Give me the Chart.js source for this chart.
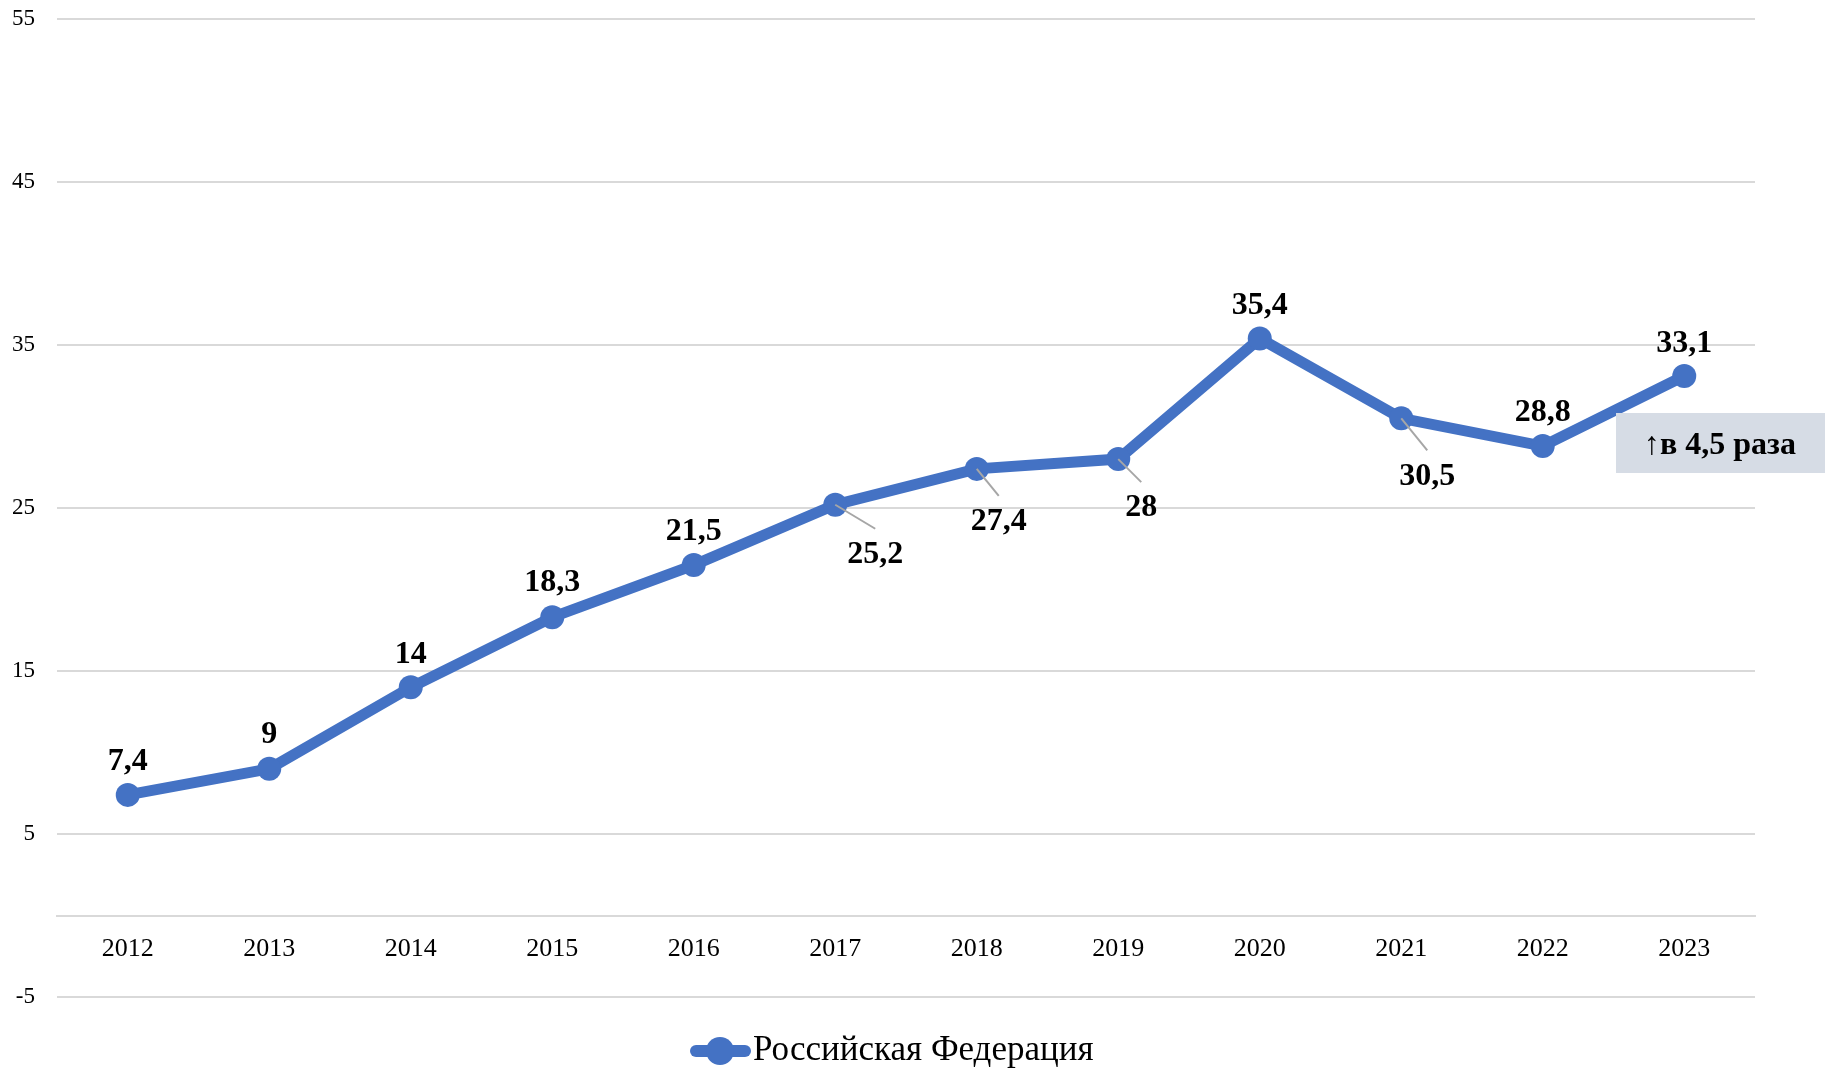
<!DOCTYPE html>
<html>
<head>
<meta charset="utf-8">
<script src="https://cdn.jsdelivr.net/npm/chart.js@4.4.1/dist/chart.umd.min.js"></script>
<style>
  html, body { margin: 0; padding: 0; background: #fff; }
  #wrap { width: 1825px; height: 1068px; position: relative; }
</style>
</head>
<body>
<div id="wrap"><canvas id="chart"></canvas></div>
<script>
// Data
const years = ['2012', '2013', '2014', '2015', '2016', '2017', '2018', '2019', '2020', '2021', '2022', '2023'];
const values = [7.4, 9, 14, 18.3, 21.5, 25.2, 27.4, 28, 35.4, 30.5, 28.8, 33.1];
const valueLabels = ['7,4', '9', '14', '18,3', '21,5', '25,2', '27,4', '28', '35,4', '30,5', '28,8', '33,1'];
const yTicks = [-5, 5, 15, 25, 35, 45, 55];
const seriesName = 'Российская Федерация';
const noteText = '↑в 4,5 раза';

const blue = '#4472C4';
const gridGray = '#d9d9d9';
const serif = '"Liberation Serif", "Times New Roman", serif';

// label placement: dx, dy from the point, and whether a leader line is drawn
const labelPlace = [
    [0, -33, false], [0, -34, false], [0, -33, false], [0, -34, false], [0, -33, false],
    [40, 50, true], [22, 53, true], [23, 49, true],
    [0, -33, false], [26, 58, true], [0, -33, false], [0, -32, false]
];

const valueLabelPlugin = {
    id: 'valueLabels',
    afterDatasetsDraw(chart) {
        const ctx = chart.ctx;
        const meta = chart.getDatasetMeta(0);
        ctx.save();
        meta.data.forEach((pt, i) => {
            const [dx, dy, leader] = labelPlace[i];
            const lx = pt.x + dx;
            const ly = pt.y + dy;
            if (leader) {
                ctx.strokeStyle = '#a6a6a6';
                ctx.lineWidth = 2;
                ctx.beginPath();
                ctx.moveTo(pt.x, pt.y);
                ctx.lineTo(lx, ly - 26);
                ctx.stroke();
            }
            ctx.fillStyle = '#000';
            ctx.font = 'bold 32px ' + serif;
            ctx.textAlign = 'center';
            ctx.textBaseline = 'middle';
            ctx.fillText(valueLabels[i], lx, ly);
        });
        ctx.restore();
    }
};

const notePlugin = {
    id: 'noteBox',
    afterDraw(chart) {
        const ctx = chart.ctx;
        ctx.save();
        ctx.fillStyle = '#d6dce5';
        ctx.fillRect(1616, 413, 209, 60);
        ctx.fillStyle = '#000';
        ctx.font = 'bold 32px ' + serif;
        ctx.textAlign = 'center';
        ctx.textBaseline = 'middle';
        ctx.fillText(noteText, 1720, 446);
        ctx.restore();
    }
};

const legendPlugin = {
    id: 'lineLegend',
    afterDraw(chart) {
        const ctx = chart.ctx;
        const ds = chart.data.datasets[0];
        const y = 1051;
        const x0 = 690;
        ctx.save();
        ctx.strokeStyle = ds.borderColor;
        ctx.lineWidth = 12;
        ctx.lineCap = 'round';
        ctx.beginPath();
        ctx.moveTo(x0 + 6, y);
        ctx.lineTo(x0 + 55, y);
        ctx.stroke();
        ctx.fillStyle = ds.borderColor;
        ctx.beginPath();
        ctx.arc(x0 + 30, y, 14, 0, Math.PI * 2);
        ctx.fill();
        ctx.fillStyle = '#000';
        ctx.font = '35px ' + serif;
        ctx.textAlign = 'left';
        ctx.textBaseline = 'middle';
        ctx.fillText(ds.label, x0 + 63, y);
        ctx.restore();
    }
};

new Chart(document.getElementById('chart'), {
    type: 'line',
    data: {
        labels: years,
        datasets: [{
            label: seriesName,
            data: values,
            borderColor: blue,
            backgroundColor: blue,
            borderWidth: 11,
            pointRadius: 12,
            pointHoverRadius: 12,
            pointBackgroundColor: blue,
            pointBorderWidth: 0,
            tension: 0,
            fill: false
        }]
    },
    options: {
        responsive: true,
        maintainAspectRatio: false,
        animation: false,
        layout: { padding: { top: 19, right: 70, bottom: 71, left: 0 } },
        plugins: {
            legend: { display: false },
            tooltip: { enabled: false }
        },
        scales: {
            x: {
                position: { y: 0 },
                offset: true,
                grid: { display: false, drawTicks: false },
                border: { display: true, color: gridGray, width: 2 },
                ticks: { color: '#000', font: { family: serif, size: 26 }, padding: 18 }
            },
            y: {
                min: -5,
                max: 55,
                afterBuildTicks: s => { s.ticks = yTicks.map(v => ({ value: v })); },
                afterFit: s => { s.width = 57; s.paddingTop = 0; s.paddingBottom = 0; },
                grid: { color: gridGray, lineWidth: 2, drawTicks: false },
                border: { display: false },
                ticks: { color: '#000', font: { family: serif, size: 23 }, padding: 22 }
            }
        }
    },
    plugins: [valueLabelPlugin, notePlugin, legendPlugin]
});
</script>
</body>
</html>
